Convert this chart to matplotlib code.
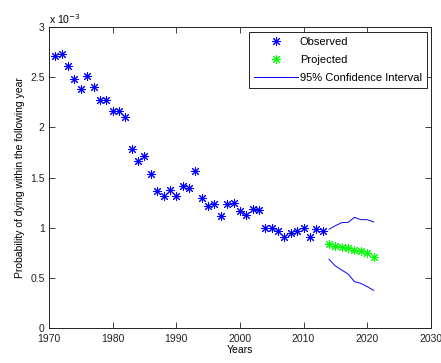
import numpy as np
import matplotlib.pyplot as plt
from matplotlib.lines import Line2D

plt.rcParams['font.family'] = ['Liberation Sans', 'DejaVu Sans']

# observed yearly probability (x 10^-3)
obs_years = list(range(1971, 2014))
obs_prob = [2.715, 2.734, 2.61, 2.48, 2.38, 2.51, 2.40, 2.276, 2.276, 2.16,
            2.16, 2.10, 1.78, 1.66, 1.715, 1.53, 1.366, 1.32, 1.376, 1.32,
            1.42, 1.396, 1.56, 1.296, 1.22, 1.236, 1.12, 1.236, 1.243, 1.166,
            1.13, 1.186, 1.173, 1.0, 1.0, 0.967, 0.904, 0.947, 0.97, 0.994,
            0.91, 0.99, 0.964]

# projection and 95% interval
proj_years = list(range(2014, 2022))
proj_prob = [0.84, 0.818, 0.808, 0.795, 0.778, 0.765, 0.748, 0.711]
ci_upper = [0.984, 1.02, 1.05, 1.053, 1.103, 1.08, 1.08, 1.057]
ci_lower = [0.685, 0.618, 0.578, 0.538, 0.462, 0.445, 0.412, 0.376]

xticks = [1970, 1980, 1990, 2000, 2010, 2020, 2030]
yticks = [0, 0.5, 1, 1.5, 2, 2.5, 3]

star = (8, 2, 0)
mk = dict(linestyle='none', marker=star, markersize=6.5, markeredgewidth=0.75)

fig = plt.figure(figsize=(4.41, 3.63), dpi=100)
ax = fig.add_axes([0.111, 0.0964, 0.866, 0.8292])

ax.plot(obs_years, obs_prob, color='#0000ff', **mk)
ax.plot(proj_years, proj_prob, color='#00ff00', **mk)
ax.plot(proj_years, ci_upper, color='#0000ff', linewidth=0.7)
ax.plot(proj_years, ci_lower, color='#0000ff', linewidth=0.7)

ax.set_xlim(1970, 2030)
ax.set_ylim(0, 3)
ax.set_xticks(xticks)
ax.set_yticks(yticks)
ax.set_yticklabels(['0', '0.5', '1', '1.5', '2', '2.5', '3'])
ax.tick_params(direction='in', length=4, width=0.6, top=True, right=True,
               labelsize=7.5, colors='#222222', pad=3)
ax.tick_params(axis='x', pad=4)
for s in ax.spines.values():
    s.set_linewidth(0.7)
    s.set_color('#222222')

ax.set_xlabel('Years', fontsize=7.5, labelpad=1)
ax.set_ylabel('Probability of dying within the following year', fontsize=7.5,
              labelpad=4)
ax.text(0.0, 1.005, 'x 10$^{-3}$', transform=ax.transAxes, fontsize=7.5,
        va='bottom', ha='left')

handles = [
    Line2D([], [], color='#0000ff', **mk),
    Line2D([], [], color='#00ff00', **mk),
    Line2D([], [], color='#0000ff', linewidth=0.7),
]
leg = ax.legend(handles, ['Observed', 'Projected', '95% Confidence Interval'],
                loc='upper right', bbox_to_anchor=(0.9895, 0.983),
                fontsize=8, fancybox=False, framealpha=1,
                edgecolor='#222222', borderpad=0.45, labelspacing=0.72,
                handlelength=3.9, handletextpad=0.2, borderaxespad=0)
leg.get_frame().set_linewidth(0.7)

fig.savefig('out.png', dpi=100)
